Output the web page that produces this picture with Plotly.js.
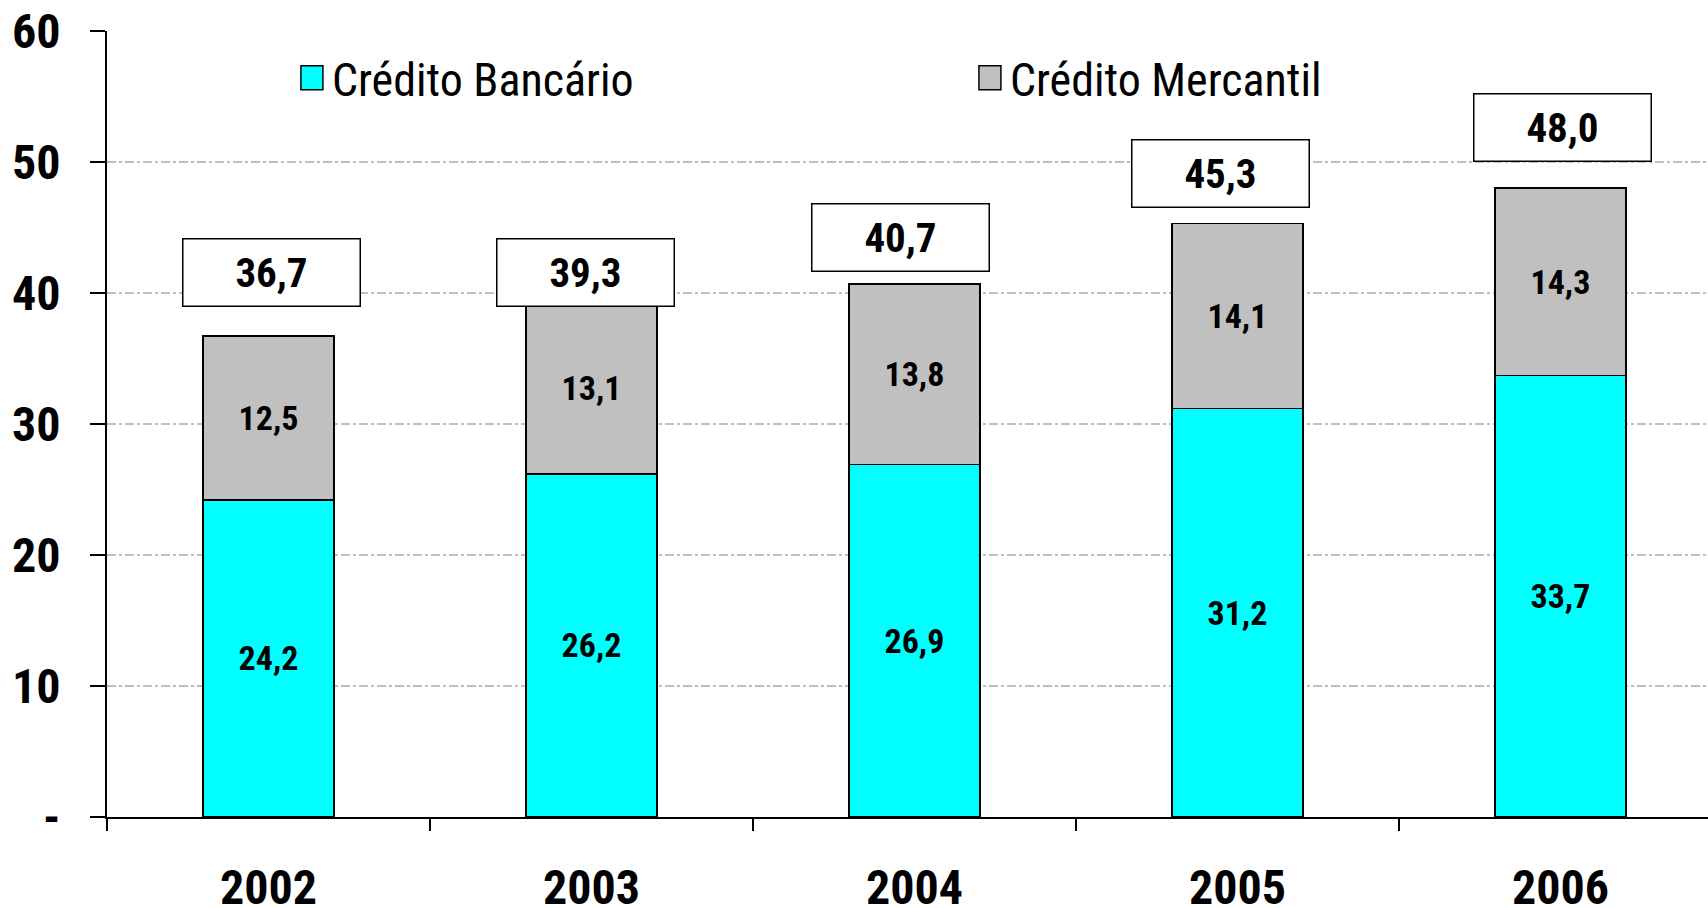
<!DOCTYPE html>
<html>
<head>
<meta charset="utf-8">
<script src="https://cdn.plot.ly/plotly-3.0.1.min.js"></script>
<style>
  html, body { margin: 0; padding: 0; background: #fff; }
  #chart { width: 1708px; height: 908px; }
</style>
</head>
<body>
<div id="chart"></div>
<script>
const years = ['2002', '2003', '2004', '2005', '2006'];
const bancario = [24.2, 26.2, 26.9, 31.2, 33.7];
const mercantil = [12.5, 13.1, 13.8, 14.1, 14.3];
const yTickVals = [0, 10, 20, 30, 40, 50, 60];
const yTickText = ['-', '10', '20', '30', '40', '50', '60'];

// placement of the total boxes: lift above the stack (axis units), sideways nudge (px)
const labelLift = [4.9, 2.3, 3.5, 3.8, 4.6];
const labelShift = [3, -6, -14, -17, 2];

const FONT = '"Roboto Condensed", "Liberation Sans Narrow", "Arial Narrow", sans-serif';

const totals = years.map((_, i) => Math.round((bancario[i] + mercantil[i]) * 10) / 10);

const barText = { family: FONT, size: 34, color: '#000', weight: 'bold' };

const traces = [
  {
    type: 'bar',
    name: 'Crédito Bancário',
    x: years,
    y: bancario,
    marker: { color: '#00FFFF', line: { color: '#000', width: 1.5 } },
    texttemplate: '%{y:.1f}',
    textposition: 'inside',
    insidetextanchor: 'middle',
    textangle: 0,
    constraintext: 'none',
    textfont: barText,
    hoverinfo: 'skip'
  },
  {
    type: 'bar',
    name: 'Crédito Mercantil',
    x: years,
    y: mercantil,
    marker: { color: '#C0C0C0', line: { color: '#000', width: 1.5 } },
    texttemplate: '%{y:.1f}',
    textposition: 'inside',
    insidetextanchor: 'middle',
    textangle: 0,
    constraintext: 'none',
    textfont: barText,
    hoverinfo: 'skip'
  }
];

// total boxes above the stacks (x given as category index)
const annotations = years.map((yr, i) => ({
  x: i,
  y: totals[i] + labelLift[i],
  xref: 'x',
  yref: 'y',
  xshift: labelShift[i],
  text: totals[i].toFixed(1).replace('.', ','),
  showarrow: false,
  xanchor: 'center',
  yanchor: 'middle',
  width: 174,
  height: 64,
  borderpad: 1,
  bgcolor: '#fff',
  bordercolor: '#000',
  borderwidth: 1.5,
  font: { family: FONT, size: 41, color: '#000', weight: 'bold' }
}));

const layout = {
  width: 1708,
  height: 908,
  margin: { l: 107, r: 0, t: 31, b: 91 },
  paper_bgcolor: '#fff',
  plot_bgcolor: '#fff',
  barmode: 'stack',
  bargap: 0.595,
  separators: ',.',
  showlegend: true,
  legend: {
    orientation: 'h',
    x: 0.1155,
    xanchor: 'left',
    y: 0.9405,
    yanchor: 'middle',
    bgcolor: 'rgba(0,0,0,0)',
    entrywidth: 633,
    traceorder: 'normal',
    font: { family: FONT, size: 46, color: '#000' }
  },
  xaxis: {
    type: 'category',
    range: [-0.5, 4.457],
    showline: true,
    linecolor: '#000',
    linewidth: 2,
    ticks: 'outside',
    tickson: 'boundaries',
    ticklen: 12,
    tickwidth: 2,
    tickcolor: '#000',
    ticklabelstandoff: 27,
    showgrid: false,
    tickfont: { family: FONT, size: 48, color: '#000', weight: 'bold' }
  },
  yaxis: {
    range: [0, 60],
    tickvals: yTickVals,
    ticktext: yTickText,
    showline: true,
    linecolor: '#000',
    linewidth: 2,
    ticks: 'outside',
    ticklen: 15,
    tickwidth: 2,
    tickcolor: '#000',
    ticklabelstandoff: 20,
    showgrid: true,
    gridcolor: '#C0C0C0',
    gridwidth: 1.5,
    griddash: 'dashdot',
    zeroline: false,
    tickfont: { family: FONT, size: 48, color: '#000', weight: 'bold' }
  },
  annotations: annotations,
  shapes: [
    // the legend area hides the top gridline in the original
    {
      type: 'rect',
      xref: 'paper', yref: 'paper',
      x0: 0.011, x1: 0.859, y0: 0.985, y1: 1.01,
      fillcolor: '#fff',
      line: { width: 0 },
      layer: 'above'
    }
  ]
};

Plotly.newPlot('chart', traces, layout, { displayModeBar: false, staticPlot: true }).then(() => {
  // the original legend uses much larger colour swatches
  document.querySelectorAll('#chart .legend [clip-path]').forEach(g => g.removeAttribute('clip-path'));
  document.querySelectorAll('#chart .legend .legendpoints path').forEach(p => {
    p.setAttribute('d', 'M11,12H-11V-12H11Z');
  });
});
</script>
</body>
</html>
